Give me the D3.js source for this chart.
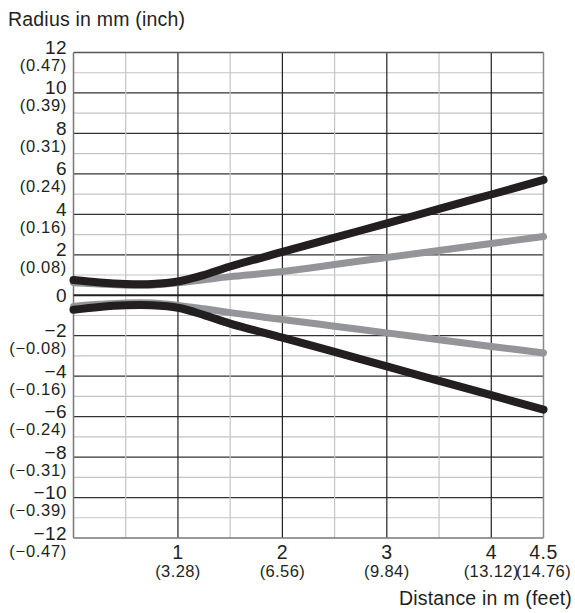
<!DOCTYPE html>
<html>
<head>
<meta charset="utf-8">
<script src="https://cdn.jsdelivr.net/npm/d3@7"></script>
<style>
  body { margin: 0; background: #fff; }
  text { font-family: "Liberation Sans", Arial, sans-serif; fill: #231f20; }
</style>
</head>
<body>
<div id="chart"></div>
<script>
// distance in m
var distance = [0, 0.25, 0.5, 0.75, 1, 1.25, 1.5, 2, 2.5, 3, 3.5, 4, 4.5];
// radius in mm
var outerTop = [0.75, 0.63, 0.56, 0.56, 0.68, 1.0, 1.42, 2.14, 2.85, 3.55, 4.27, 4.98, 5.7];
var innerTop = [0.62, 0.55, 0.5, 0.5, 0.62, 0.77, 0.92, 1.17, 1.52, 1.87, 2.21, 2.56, 2.9];
var innerBottom = [-0.55, -0.45, -0.38, -0.38, -0.5, -0.67, -0.86, -1.2, -1.53, -1.86, -2.2, -2.53, -2.85];
var outerBottom = [-0.72, -0.58, -0.5, -0.5, -0.62, -0.98, -1.4, -2.1, -2.8, -3.52, -4.23, -4.94, -5.65];

var yTicks = [12, 10, 8, 6, 4, 2, 0, -2, -4, -6, -8, -10, -12];
var yInch = ["(0.47)", "(0.39)", "(0.31)", "(0.24)", "(0.16)", "(0.08)", "", "(\u22120.08)", "(\u22120.16)", "(\u22120.24)", "(\u22120.31)", "(\u22120.39)", "(\u22120.47)"];
var xTicks = [1, 2, 3, 4, 4.5];
var xFeet = ["(3.28)", "(6.56)", "(9.84)", "(13.12)", "(14.76)"];

var width = 575, height = 613;

var svg = d3.select("#chart").append("svg")
    .attr("width", width)
    .attr("height", height);

var x = d3.scaleLinear().domain([0, 4.5]).range([73.5, 543.5]);
var y = d3.scaleLinear().domain([-12, 12]).range([538, 52.5]);

// grid
var grid = svg.append("g");
d3.range(-11, 12).forEach(function (v) {
    if (v === 0) return;
    grid.append("line")
        .attr("x1", x(0)).attr("x2", x(4.5))
        .attr("y1", y(v)).attr("y2", y(v))
        .attr("stroke", v % 2 === 0 ? "#333" : "#c4c4c4")
        .attr("stroke-width", 1.2);
});
[0.5, 1, 1.5, 2, 2.5, 3, 3.5, 4].forEach(function (v) {
    grid.append("line")
        .attr("x1", x(v)).attr("x2", x(v))
        .attr("y1", y(12)).attr("y2", y(-12))
        .attr("stroke", v % 1 === 0 ? "#231f20" : "#c4c4c4")
        .attr("stroke-width", 1.2);
});
// frame
grid.append("line").attr("x1", x(0)).attr("x2", x(4.5)).attr("y1", y(12)).attr("y2", y(12))
    .attr("stroke", "#555").attr("stroke-width", 1.3);
grid.append("line").attr("x1", x(0)).attr("x2", x(4.5)).attr("y1", y(-12)).attr("y2", y(-12))
    .attr("stroke", "#777").attr("stroke-width", 1.5);
grid.append("line").attr("x1", x(0)).attr("x2", x(0)).attr("y1", y(12)).attr("y2", y(-12))
    .attr("stroke", "#777").attr("stroke-width", 1.5);
grid.append("line").attr("x1", x(4.5)).attr("x2", x(4.5)).attr("y1", y(12)).attr("y2", y(-12))
    .attr("stroke", "#888").attr("stroke-width", 1.5);
grid.append("line").attr("x1", x(0)).attr("x2", x(4.5)).attr("y1", y(0)).attr("y2", y(0))
    .attr("stroke", "#231f20").attr("stroke-width", 2);

// curves
var line = d3.line()
    .x(function (d, i) { return x(distance[i]); })
    .y(function (d) { return y(d); })
    .curve(d3.curveCatmullRom.alpha(0.5));

[innerTop, innerBottom].forEach(function (s) {
    svg.append("path")
        .attr("d", line(s))
        .attr("fill", "none")
        .attr("stroke", "#939598")
        .attr("stroke-width", 7)
        .attr("stroke-linecap", "round")
        .attr("stroke-linejoin", "round");
});
[outerTop, outerBottom].forEach(function (s) {
    svg.append("path")
        .attr("d", line(s))
        .attr("fill", "none")
        .attr("stroke", "#231f20")
        .attr("stroke-width", 8)
        .attr("stroke-linecap", "round")
        .attr("stroke-linejoin", "round");
});

// y labels
yTicks.forEach(function (v, i) {
    svg.append("text")
        .attr("x", 67)
        .attr("y", v === 0 ? y(v) + 7 : y(v) + 1.5)
        .attr("text-anchor", "end")
        .attr("font-size", 19)
        .attr("letter-spacing", 0.4)
        .text(v < 0 ? "\u2212" + Math.abs(v) : v);
    if (yInch[i]) {
        svg.append("text")
            .attr("x", 67)
            .attr("y", y(v) + 18.5)
            .attr("text-anchor", "end")
            .attr("font-size", 16.5)
            .attr("letter-spacing", 0.7)
            .text(yInch[i]);
    }
});

// x labels
xTicks.forEach(function (v, i) {
    svg.append("text")
        .attr("x", x(v))
        .attr("y", 558.5)
        .attr("text-anchor", "middle")
        .attr("font-size", 19.5)
        .attr("letter-spacing", 0.4)
        .text(v);
    svg.append("text")
        .attr("x", x(v))
        .attr("y", 577)
        .attr("text-anchor", "middle")
        .attr("font-size", 16.5)
        .attr("letter-spacing", 0.4)
        .text(xFeet[i]);
});

svg.append("text")
    .attr("x", 8)
    .attr("y", 26)
    .attr("font-size", 19.5)
    .attr("letter-spacing", 0.2)
    .text("Radius in mm (inch)");

svg.append("text")
    .attr("x", 572)
    .attr("y", 605)
    .attr("text-anchor", "end")
    .attr("font-size", 19.5)
    .attr("letter-spacing", 0.2)
    .text("Distance in m (feet)");
</script>
</body>
</html>
